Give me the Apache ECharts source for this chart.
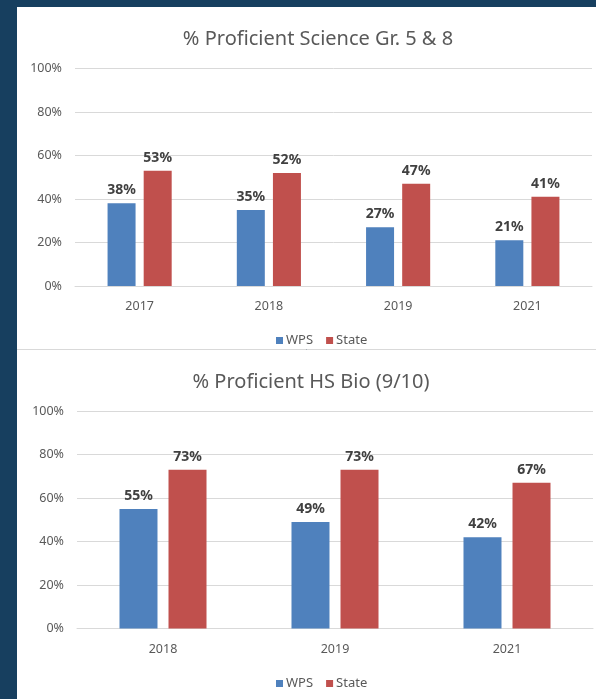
<!DOCTYPE html>
<html style="height: 100%">
  <head>
    <meta charset="utf-8" />
    <title>Proficient</title>
    <script src="https://cdn.jsdelivr.net/npm/echarts@6/dist/echarts.min.js"></script>
  </head>
  <body style="height: 100%; margin: 0; background: #173f5f">
    <div id="main" style="width: 596px; height: 699px"></div>
    <script type="text/javascript">
      // data
      var sciYears = ["2017", "2018", "2019", "2021"];
      var sciWPS = [38, 35, 27, 21];
      var sciState = [53, 52, 47, 41];

      var bioYears = ["2018", "2019", "2021"];
      var bioWPS = [55, 49, 42];
      var bioState = [73, 73, 67];

      var blue = "#4f81bd";
      var red = "#c0504d";
      var font = "Noto Sans";

      var myChart = echarts.init(document.getElementById("main"));

      function yAxis(idx) {
        return {
          gridIndex: idx,
          type: "value",
          min: 0,
          max: 100,
          interval: 20,
          axisLine: { show: false },
          axisTick: { show: false },
          axisLabel: {
            formatter: "{value}%",
            color: "#595959",
            fontSize: 12.5,
            fontFamily: font,
            margin: 13,
          },
          splitLine: { lineStyle: { color: "#d9d9d9", width: 1 } },
        };
      }
      function xAxis(idx, data) {
        return {
          gridIndex: idx,
          type: "category",
          data: data,
          axisLine: { lineStyle: { color: "#d9d9d9" } },
          axisTick: { show: false },
          axisLabel: { color: "#595959", fontSize: 12.5, fontFamily: font, margin: 14 },
        };
      }
      function bar(name, idx, data, color, w, gap) {
        return {
          name: name,
          type: "bar",
          xAxisIndex: idx,
          yAxisIndex: idx,
          data: data,
          barWidth: w,
          barGap: gap,
          itemStyle: { color: color },
          label: {
            show: true,
            position: "top",
            distance: 6,
            formatter: "{c}%",
            color: "#404040",
            fontWeight: "bold",
            fontSize: 14,
            fontFamily: font,
          },
        };
      }
      var titleStyle = { color: "#595959", fontSize: 20, fontWeight: "normal", fontFamily: font };
      var legendStyle = { color: "#595959", fontSize: 13, fontFamily: font, padding: [0, 0, 0, -2] };

      var option = {
        animation: false,
        graphic: [
          { type: "rect", shape: { x: 17, y: 7, width: 579, height: 342 }, style: { fill: "#fff" }, z: -10 },
          { type: "rect", shape: { x: 17, y: 350, width: 579, height: 349 }, style: { fill: "#fff" }, z: -10 },
          { type: "line", shape: { x1: 17, y1: 349.5, x2: 596, y2: 349.5 }, style: { stroke: "#d9d9d9", lineWidth: 1 }, z: -9 },
        ],
        title: [
          { text: "% Proficient Science Gr. 5 & 8", left: 313, top: 24, textAlign: "center", textStyle: titleStyle },
          { text: "% Proficient HS Bio (9/10)", left: 306, top: 367, textAlign: "center", textStyle: titleStyle },
        ],
        legend: [
          { data: ["WPS", "State"], left: 271, top: 329, itemWidth: 7, itemHeight: 7, itemGap: 13, icon: "rect", textStyle: legendStyle },
          { data: ["WPS", "State"], left: 271, top: 672, itemWidth: 7, itemHeight: 7, itemGap: 13, icon: "rect", textStyle: legendStyle },
        ],
        grid: [
          { left: 75, right: 4, top: 68.5, bottom: 413 },
          { left: 77, right: 3, top: 411, bottom: 70.5 },
        ],
        xAxis: [xAxis(0, sciYears), xAxis(1, bioYears)],
        yAxis: [yAxis(0), yAxis(1)],
        series: [
          bar("WPS", 0, sciWPS, blue, 28, "29%"),
          bar("State", 0, sciState, red, 28, "29%"),
          bar("WPS", 1, bioWPS, blue, 38, "29%"),
          bar("State", 1, bioState, red, 38, "29%"),
        ],
      };

      myChart.setOption(option);
    </script>
  </body>
</html>
